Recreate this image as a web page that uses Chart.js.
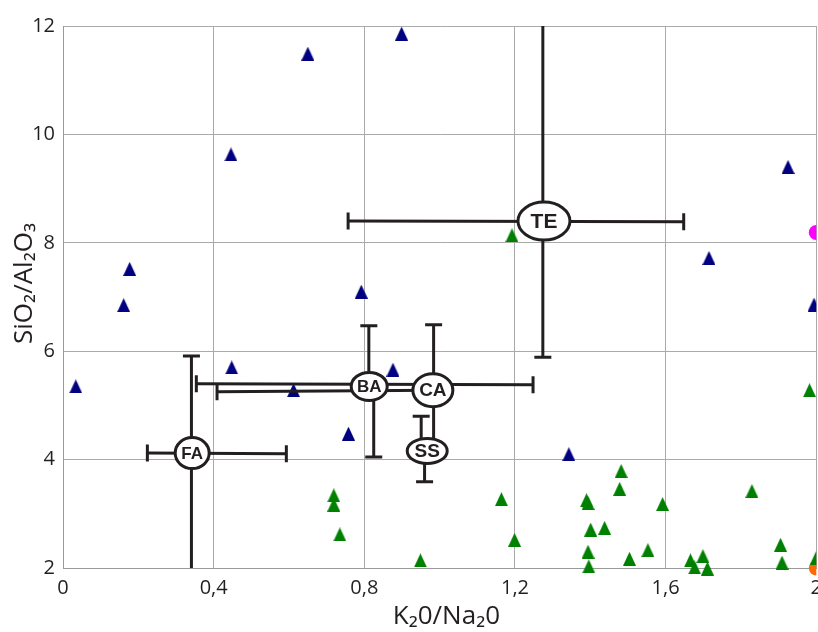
<!DOCTYPE html>
<html>
<head>
<meta charset="utf-8">
<script src="https://cdn.jsdelivr.net/npm/chart.js@4"></script>
<style>
html, body { margin: 0; padding: 0; background: #fff; overflow: hidden; }
#wrap { width: 830px; height: 632px; }
</style>
</head>
<body>
<div id="wrap"><canvas id="myChart" width="830" height="632"></canvas></div>
<script>
// tick labels
var xTicks = ["0", "0,4", "0,8", "1,2", "1,6", "2"];
var yTicks = ["2", "4", "6", "8", "10", "12"];

// samples
var blueX = [0.034, 0.161, 0.177, 0.446, 0.650, 0.899, 0.792, 0.448, 0.612, 0.758, 0.876, 1.343, 1.925, 1.715, 1.994];
var blueY = [5.35, 6.85, 7.52, 9.63, 11.49, 11.86, 7.10, 5.70, 5.28, 4.48, 5.66, 4.10, 9.40, 7.72, 6.86];

var greenX = [0.719, 0.719, 0.735, 0.949, 1.164, 1.199, 1.192, 1.390, 1.394, 1.401, 1.438, 1.394, 1.396,
              1.482, 1.478, 1.592, 1.504, 1.553, 1.666, 1.677, 1.699, 1.711, 1.829, 1.905, 1.909, 1.982, 2.0];
var greenY = [3.34, 3.17, 2.62, 2.14, 3.27, 2.52, 8.14, 3.25, 3.20, 2.71, 2.74, 2.30, 2.03,
              3.79, 3.46, 3.18, 2.17, 2.33, 2.14, 2.01, 2.22, 1.99, 3.42, 2.43, 2.10, 5.28, 2.19];

var pinkX = [2.0];
var pinkY = [8.19];
var orangeX = [2.0];
var orangeY = [2.0];

// group means
var groups = ["FA", "BA", "CA", "SS", "TE"];
var groupX = [0.343, 0.813, 0.982, 0.967, 1.277];
var groupY = [4.12, 5.35, 5.28, 4.16, 8.40];

// error bar arms (from -> to), 1 = cap at that end
var barX1 = [0.341, 0.224, 0.812, 0.825, 0.354, 0.409, 0.984, 0.951, 0.960, 1.274, 0.757];
var barY1 = [5.91, 4.12, 6.47, 5.35, 5.40, 5.25, 6.49, 4.80, 4.16, 12.0, 8.40];
var barX2 = [0.341, 0.593, 0.812, 0.825, 1.248, 0.982, 0.984, 0.951, 0.960, 1.274, 1.648];
var barY2 = [2.0, 4.11, 5.35, 4.05, 5.38, 5.28, 4.16, 4.16, 3.59, 5.89, 8.39];
var cap1 = [1, 1, 1, 0, 1, 1, 1, 1, 0, 0, 1];
var cap2 = [0, 1, 0, 1, 1, 0, 0, 0, 1, 1, 1];

function pts(xs, ys) {
    return xs.map(function (x, i) { return {x: x, y: ys[i]}; });
}

function tri(color) {
    var c = document.createElement("canvas");
    c.width = 13; c.height = 14;
    var g = c.getContext("2d");
    g.fillStyle = color;
    g.beginPath();
    g.moveTo(6.5, 0); g.lineTo(13, 14); g.lineTo(0, 14);
    g.closePath();
    g.fill();
    return c;
}

var ink = "#231f20";
var markClip = {left: false, top: false, right: 0, bottom: false};

var datasets = [];
for (var i = 0; i < barX1.length; i++) {
    var flat = Math.abs(barX2[i] - barX1[i]) / 2 > Math.abs(barY2[i] - barY1[i]) / 10;
    datasets.push({
        data: [{x: barX1[i], y: barY1[i]}, {x: barX2[i], y: barY2[i]}],
        showLine: true,
        borderColor: ink,
        borderWidth: 3,
        pointStyle: "line",
        pointRotation: flat ? 90 : 0,
        pointBorderColor: ink,
        pointBorderWidth: 3,
        pointRadius: [cap1[i] ? 8.5 : 0, cap2[i] ? 8.5 : 0]
    });
}
datasets.push({data: pts(blueX, blueY), pointStyle: tri("#000080"), pointRadius: 7, clip: markClip});
datasets.push({data: pts(greenX, greenY), pointStyle: tri("#008000"), pointRadius: 7, clip: markClip});
datasets.push({data: pts(pinkX, pinkY), pointStyle: "circle", pointRadius: 7.5, borderWidth: 0, backgroundColor: "#ff00ff", clip: markClip});
datasets.push({data: pts(orangeX, orangeY), pointStyle: "circle", pointRadius: 7.5, borderWidth: 0, backgroundColor: "#ff6a00", clip: markClip});

// label ellipses on the group means
var ovalRx = [17, 18, 20, 20, 26];
var ovalRy = [15.5, 14, 16.5, 12.5, 19];
var ovalFont = [17, 17, 19, 19, 21];

var ovals = {
    id: "ovals",
    afterDatasetsDraw: function (chart) {
        var ctx = chart.ctx;
        var sx = chart.scales.x, sy = chart.scales.y;
        ctx.save();
        for (var i = 0; i < groups.length; i++) {
            var px = sx.getPixelForValue(groupX[i]);
            var py = sy.getPixelForValue(groupY[i]);
            ctx.beginPath();
            ctx.ellipse(px, py, ovalRx[i], ovalRy[i], 0, 0, Math.PI * 2);
            ctx.fillStyle = "#fff";
            ctx.fill();
            ctx.lineWidth = 3;
            ctx.strokeStyle = ink;
            ctx.stroke();
            ctx.fillStyle = ink;
            ctx.font = "bold " + ovalFont[i] + "px 'Liberation Sans'";
            ctx.textAlign = "center";
            ctx.textBaseline = "middle";
            ctx.fillText(groups[i], px, py + 1);
        }
        ctx.restore();
    }
};

var tickFont = {family: "Open Sans", size: 20};
var titleFont = {family: "Open Sans", size: 26};

new Chart("myChart", {
    type: "scatter",
    data: {datasets: datasets},
    plugins: [ovals],
    options: {
        responsive: false,
        animation: false,
        layout: {padding: {left: 0, right: 13.3, top: 26, bottom: 0}},
        plugins: {legend: {display: false}, tooltip: {enabled: false}},
        scales: {
            x: {
                type: "linear", min: 0, max: 2,
                afterFit: function (s) { s.height = 64; },
                grid: {color: "#aaaaaa", drawTicks: false},
                border: {color: "#999999"},
                ticks: {
                    stepSize: 0.4, padding: 8, color: ink, font: tickFont,
                    callback: function (v, i) { return xTicks[i]; }
                },
                title: {display: true, text: "  K₂0/Na₂0", color: ink, font: titleFont, padding: {top: 0, bottom: 0}}
            },
            y: {
                type: "linear", min: 2, max: 12,
                afterFit: function (s) { s.width = 63; },
                grid: {color: "#aaaaaa", drawTicks: false},
                border: {color: "#999999"},
                ticks: {
                    stepSize: 2, padding: 8, color: ink, font: tickFont,
                    callback: function (v, i) { return yTicks[i]; }
                },
                title: {display: true, text: "    SiO₂/Al₂O₃", color: ink, font: titleFont, padding: {top: 9, bottom: 0}}
            }
        }
    }
});
</script>
</body>
</html>
